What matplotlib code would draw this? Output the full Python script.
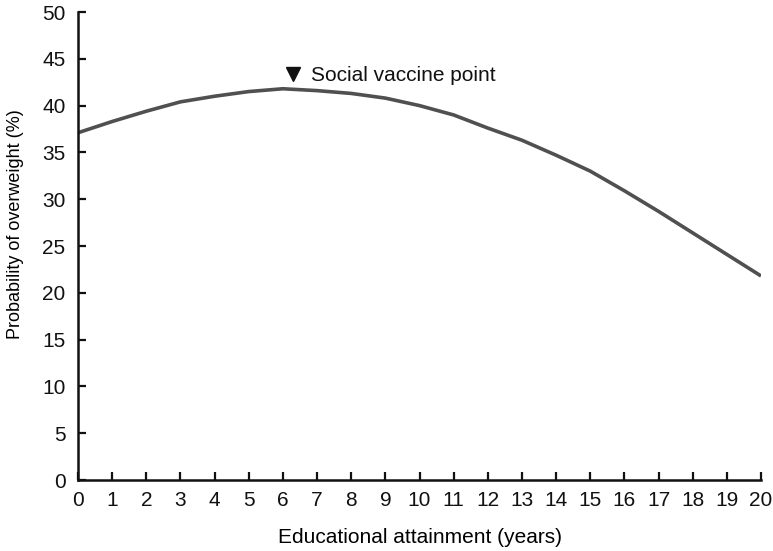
import matplotlib
matplotlib.use("Agg")
import matplotlib.pyplot as plt

years = [0, 1, 2, 3, 4, 5, 6, 7, 8, 9, 10, 11, 12, 13, 14, 15, 16, 17, 18, 19, 20]
prob = [37.1, 38.3, 39.4, 40.4, 41.0, 41.5, 41.8, 41.6, 41.3, 40.8, 40.0, 39.0, 37.6, 36.3, 34.7, 33.0, 30.9, 28.7, 26.4, 24.1, 21.8]
marker_x = 6.3
marker_y = 43.4
marker_label = "Social vaccine point"
xticks = list(range(0, 21))
yticks = list(range(0, 51, 5))

plt.rcParams['font.family'] = ['Liberation Sans', 'DejaVu Sans']

fig = plt.figure(figsize=(7.73, 5.51), dpi=100)
ax = fig.add_axes([78/773, 71/551, (761-78)/773, (480-12)/551])

ax.plot(years, prob, color='#505050', lw=2.6, solid_capstyle='butt')
ax.plot([marker_x], [marker_y], marker='v', color='#111111', markersize=10, ls='none')
ax.text(marker_x + 0.52, marker_y - 0.2, marker_label, fontsize=15, va='center', ha='left', color='#111111')

ax.set_xlim(0, 20)
ax.set_ylim(0, 50)
ax.set_xticks(xticks)
ax.set_yticks(yticks)
ax.tick_params(direction='in', length=6, width=1.6, labelsize=15, colors='#111111')
ax.tick_params(axis='x', pad=8)
ax.tick_params(axis='y', pad=9)
for s in ['top', 'right']:
    ax.spines[s].set_visible(False)
for s in ['left', 'bottom']:
    ax.spines[s].set_linewidth(1.8)
    ax.spines[s].set_color('#111111')

ax.set_xlabel("Educational attainment (years)", fontsize=15, labelpad=13)
ax.set_ylabel("Probability of overweight (%)", fontsize=13)
ax.yaxis.set_label_coords(-0.079, 0.547)

fig.savefig("out.png", dpi=100)
